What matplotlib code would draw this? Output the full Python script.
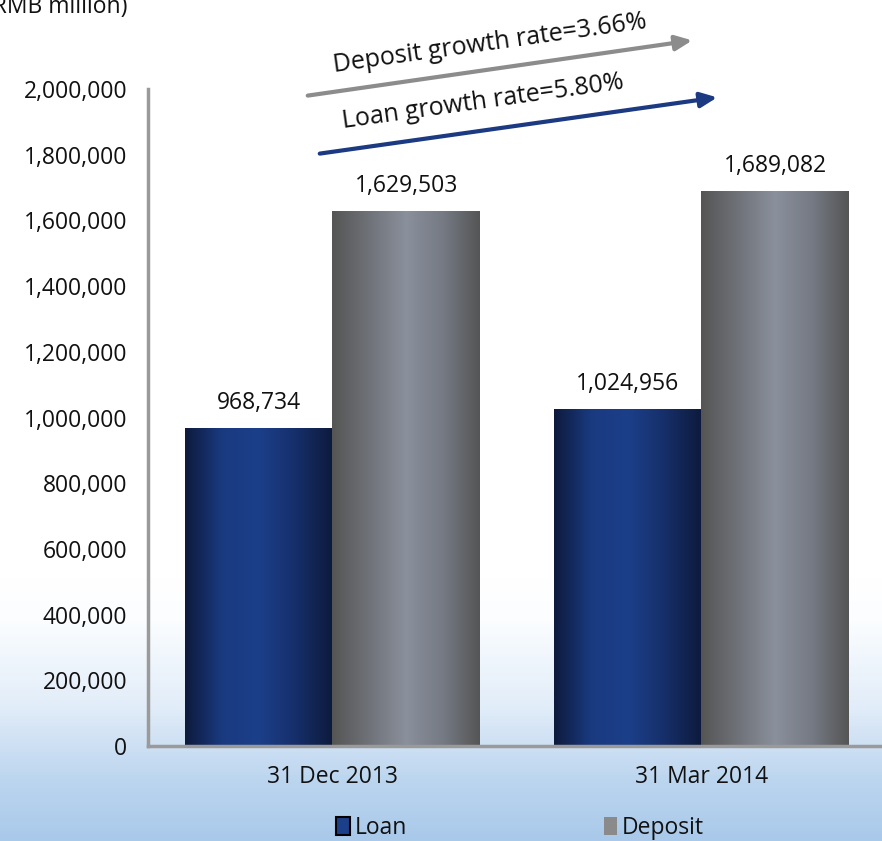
import numpy as np
import matplotlib.pyplot as plt
from matplotlib.patches import Patch
from matplotlib.colors import LinearSegmentedColormap

# --- data ---
dates = ["31 Dec 2013", "31 Mar 2014"]
loan = [968734, 1024956]
deposit = [1629503, 1689082]
loan_growth = "Loan growth rate=5.80%"
deposit_growth = "Deposit growth rate=3.66%"
y_ticks = [0, 200000, 400000, 600000, 800000, 1000000, 1200000, 1400000, 1600000, 1800000, 2000000]

plt.rcParams['font.family'] = ['Open Sans', 'DejaVu Sans']
txt = '#111111'

fig = plt.figure(figsize=(8.82, 8.41), dpi=100)

# sky-ish background, only near the bottom
bg = fig.add_axes([0, 0, 1, 1], zorder=-10)
h = np.linspace(0, 1, 256).reshape(-1, 1)
sky = LinearSegmentedColormap.from_list('sky', [(0, '#a9c9ea'), (0.07, '#bcd5ef'), (0.16, '#e2edf9'),
                                                (0.26, '#fbfdff'), (0.31, '#ffffff'), (1, '#ffffff')])
bg.imshow(h, aspect='auto', cmap=sky, extent=[0, 1, 0, 1], origin='lower')
bg.axis('off')

ax = fig.add_axes([148 / 882, 1 - 746 / 841, 1 - 148 / 882, (746 - 89) / 841])
ax.patch.set_alpha(0)

loan_cmap = LinearSegmentedColormap.from_list('loan', ['#0e1a3c', '#1a3a80', '#1c3f8a', '#162f6a', '#0d1a3c'])
dep_cmap = LinearSegmentedColormap.from_list('dep', ['#555555', '#6f7278', '#8a909c', '#757a84', '#555555'])
grad = np.linspace(0, 1, 256).reshape(1, -1)

x = np.arange(len(dates))
w = 0.4
for vals, offs, cmap in [(loan, -w / 2, loan_cmap), (deposit, w / 2, dep_cmap)]:
    bars = ax.bar(x + offs, vals, width=w, color='none', edgecolor='none')
    for b, v in zip(bars, vals):
        x0, y0 = b.get_x(), b.get_y()
        im = ax.imshow(grad, aspect='auto', cmap=cmap,
                       extent=[x0, x0 + b.get_width(), y0, y0 + b.get_height()], zorder=2)
        im.set_clip_path(b)
        ax.text(b.get_x() + b.get_width() / 2, v + 40000, f"{v:,}", ha='center', va='bottom',
                fontsize=16.5, color=txt)

ax.set_xlim(-0.5, 1.49)
ax.set_ylim(0, 2000000)
ax.set_yticks(y_ticks)
ax.set_yticklabels([f"{t:,}" for t in y_ticks])
ax.set_xticks(x)
ax.set_xticklabels(dates)
ax.tick_params(length=0, labelsize=16.5, colors=txt)
ax.tick_params(axis='y', pad=15)
ax.tick_params(axis='x', pad=14)
for s in ['top', 'right']:
    ax.spines[s].set_visible(False)
for s in ['left', 'bottom']:
    ax.spines[s].set_color('#9a9a9a')
    ax.spines[s].set_linewidth(2.5)

# growth arrows
ax.annotate('', xy=(695 / 882, 1 - 40 / 841), xytext=(305 / 882, 1 - 96 / 841),
            xycoords='figure fraction', textcoords='figure fraction',
            arrowprops=dict(arrowstyle='-|>,head_length=1.0,head_width=0.45', color='#8c8c8c', lw=3))
ax.annotate('', xy=(720 / 882, 1 - 97 / 841), xytext=(317 / 882, 1 - 154 / 841),
            xycoords='figure fraction', textcoords='figure fraction',
            arrowprops=dict(arrowstyle='-|>,head_length=1.0,head_width=0.45', color='#1c3a82', lw=3))
fig.text(490 / 882, 1 - 44 / 841, deposit_growth, rotation=8, ha='center', va='center',
         fontsize=18, color=txt, rotation_mode='anchor')
fig.text(483 / 882, 1 - 102 / 841, loan_growth, rotation=8, ha='center', va='center',
         fontsize=18, color=txt, rotation_mode='anchor')

fig.text(-14 / 882, 1 - 7 / 841, "(RMB million)", ha='left', va='center', fontsize=16.5, color=txt)

handles = [Patch(facecolor='#1c3f8a', edgecolor='black', lw=1.5, label='Loan'),
           Patch(facecolor='#8a8a8a', edgecolor='none', label='Deposit')]
fig.legend(handles=handles, loc='center', bbox_to_anchor=(520 / 882, 1 - 828 / 841), ncol=2,
           frameon=False, fontsize=16.5, handlelength=0.6, handleheight=0.8, handletextpad=0.2,
           columnspacing=8.6, labelcolor=txt)

fig.savefig('out.png', dpi=100)
